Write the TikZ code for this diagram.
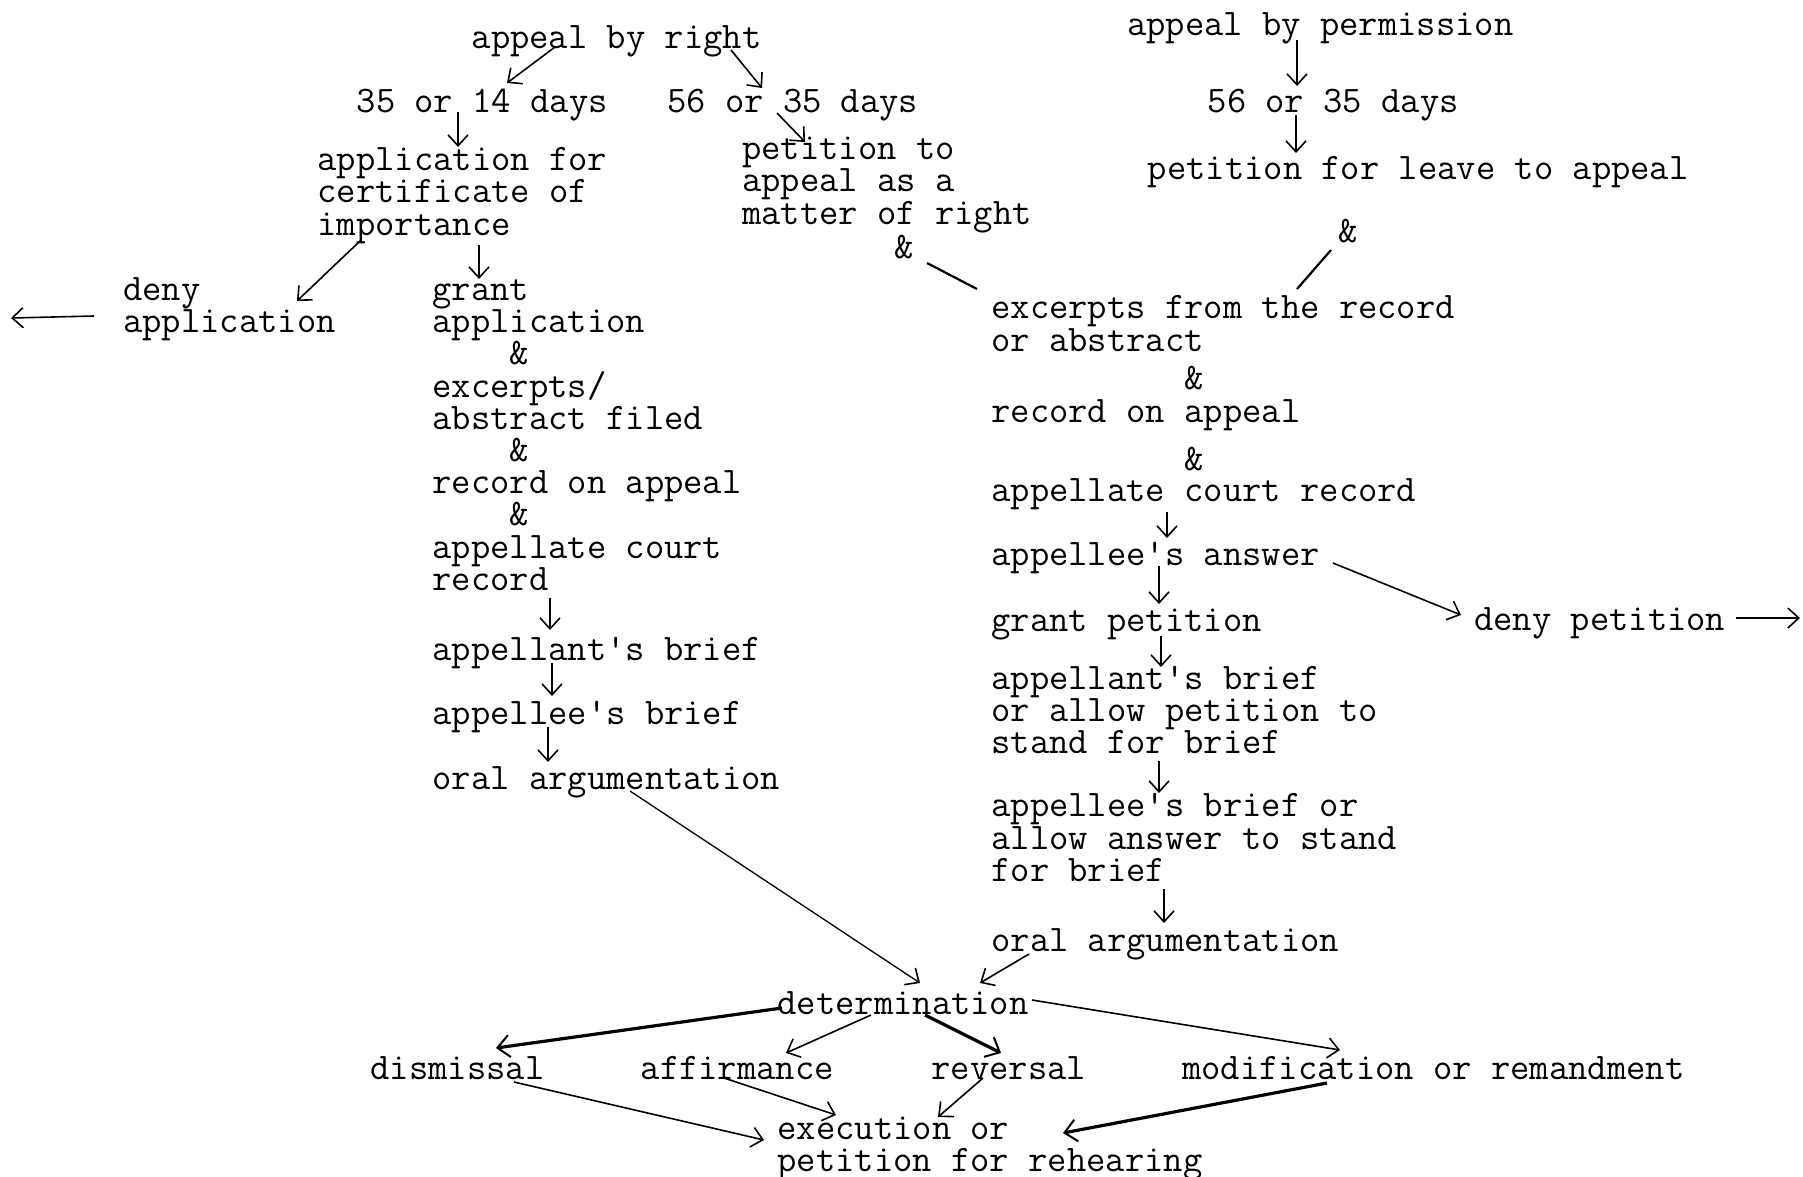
\documentclass[tikz,border=0pt]{standalone}
\usepackage{fontspec}
\usetikzlibrary{arrows.meta}
\lineskiplimit=-1000pt
\begin{document}
\begin{tikzpicture}[x=1pt,y=-1pt,
  tw/.style={anchor=north west,inner sep=0pt,align=left,
    font=\fontsize{37.5pt}{32.2pt}\selectfont\ttfamily,
    execute at begin node={\rule{0pt}{28.6pt}}},
  arr/.style={line width=1.6pt,-{Straight Barb[length=11pt,width=20pt,line width=1.6pt]}},
  heavyarr/.style={line width=3.2pt,-{Straight Barb[length=12pt,width=22pt,line width=2pt]}},
  link/.style={line width=2.2pt}]
\fill[white] (0,0) rectangle (1803,1176);
\useasboundingbox (0,0) rectangle (1803,1176);

% nodes
\node[tw] (ar) at (471.5,19.6) {appeal by right};
\node[tw] (d1) at (356.5,84) {35 or 14 days};
\node[tw] (d2) at (667,84) {56 or 35 days};
\node[tw] (app) at (317.4,147.3) {application for\\certificate of\\importance};
\node[tw] (pet) at (742,137) {petition to\\appeal as a\\matter of right};
\node[tw] (amp1) at (894.6,230) {\&};
\node[tw] (abp) at (1127,7) {appeal by permission};
\node[tw] (d3) at (1207.5,84) {56 or 35 days};
\node[tw] (pl) at (1147.6,150.7) {petition for leave to appeal};
\node[tw] (amp2) at (1338.5,214) {\&};
\node[tw] (deny) at (123,277.2) {deny\\application};
\node[tw] (grant) at (432.4,279.6) {grant\\application\\\phantom{xxxx}\&\\excerpts/\\abstract filed\\\phantom{xxxx}\&\\record on appeal\\\phantom{xxxx}\&\\appellate court\\record};
\node[tw] (ab1) at (432.4,631.4) {appellant\textquotesingle s brief};
\node[tw] (ae1) at (432.4,695.8) {appellee\textquotesingle s brief};
\node[tw] (oa1) at (432.4,760.2) {oral argumentation};
\node[tw] (ex) at (991.2,295.6) {excerpts from the record\\or abstract};
\node[tw] (amp3) at (1184.4,361) {\&};
\node[tw] (rec) at (991.2,393.4) {record on appeal};
\node[tw] (amp4) at (1184.4,441.7) {\&};
\node[tw] (acr) at (991.2,472.7) {appellate court record};
\node[tw] (ans) at (991.2,537) {appellee\textquotesingle s answer};
\node[tw] (gp) at (991.2,602.6) {grant petition};
\node[tw] (ab2) at (991.2,665.9) {appellant\textquotesingle s brief\\or allow petition to\\stand for brief};
\node[tw] (ae2) at (991.2,793.5) {appellee\textquotesingle s brief or\\allow answer to stand\\for brief};
\node[tw] (oa2) at (991.2,922.3) {oral argumentation};
\node[tw] (dp) at (1474,601.5) {deny petition};
\node[tw] (det) at (777.3,985.5) {determination};
\node[tw] (dis) at (370.3,1051) {dismissal};
\node[tw] (aff) at (640.5,1051) {affirmance};
\node[tw] (rev) at (931.4,1051) {reversal};
\node[tw] (mod) at (1182,1051) {modification or remandment};
\node[tw] (exe) at (777.3,1116.6) {execution or\\petition for rehearing};
\coordinate (denyout) at (11,318);
\coordinate (dpout) at (1800,618);

% connectors, top
\draw[arr] ([shift={(83.5,27.4)}]ar.north west) -- ([shift={(150.5,-1)}]d1.north west);
\draw[arr] ([shift={(259.5,30.4)}]ar.north west) -- ([shift={(95,4)}]d2.north west);
\draw[arr] ([shift={(101.5,28)}]d1.north west) -- ([shift={(140.6,-0.3)}]app.north west);
\draw[arr] ([shift={(110,29)}]d2.north west) -- ([shift={(63,5)}]pet.north west);
\draw[arr] ([shift={(42.6,93.7)}]app.north west) -- ([shift={(174,23.8)}]deny.north west);
\draw[arr] ([shift={(161.6,97.7)}]app.north west) -- ([shift={(46.6,-0.6)}]grant.north west);
\draw[arr] ([shift={(-29,38.8)}]deny.north west) -- (denyout);
\draw[link] ([shift={(32.4,33)}]amp1.north west) -- ([shift={(-14.2,-6.6)}]ex.north west);
\draw[link] ([shift={(-7.5,36)}]amp2.north west) -- ([shift={(305.8,-6.6)}]ex.north west);
\draw[arr] ([shift={(170,33)}]abp.north west) -- ([shift={(89.5,2)}]d3.north west);
\draw[arr] ([shift={(88.5,31)}]d3.north west) -- ([shift={(148.4,2.3)}]pl.north west);

% left column
\draw[arr] ([shift={(117.6,318.8)}]grant.north west) -- ([shift={(117.6,-1.4)}]ab1.north west);
\draw[arr] ([shift={(119.6,31.6)}]ab1.north west) -- ([shift={(119.6,0.2)}]ae1.north west);
\draw[arr] ([shift={(115.6,31.2)}]ae1.north west) -- ([shift={(115.6,1.8)}]oa1.north west);
\draw[arr,line width=1.3pt] ([shift={(197.6,30.8)}]oa1.north west) -- ([shift={(142.7,-2.5)}]det.north west);

% right column
\draw[arr] ([shift={(175.8,39.3)}]acr.north west) -- ([shift={(175.8,1)}]ans.north west);
\draw[arr] ([shift={(167.8,29)}]ans.north west) -- ([shift={(167.8,1.4)}]gp.north west);
\draw[arr] ([shift={(169.8,33.4)}]gp.north west) -- ([shift={(169.8,1.1)}]ab2.north west);
\draw[arr] ([shift={(167.8,95.1)}]ab2.north west) -- ([shift={(167.8,-0.5)}]ae2.north west);
\draw[arr] ([shift={(172.8,95.5)}]ae2.north west) -- ([shift={(172.8,0.7)}]oa2.north west);
\draw[arr] ([shift={(37.8,31.7)}]oa2.north west) -- ([shift={(202.7,-2.5)}]det.north west);
\draw[arr] ([shift={(341.8,26)}]ans.north west) -- ([shift={(-13,13.5)}]dp.north west);
\draw[arr] ([shift={(262,16.5)}]dp.north west) -- (dpout);

% bottom
\draw[heavyarr] ([shift={(4.7,22.5)}]det.north west) -- ([shift={(125.7,-3)}]dis.north west);
\draw[arr] ([shift={(93.7,29.5)}]det.north west) -- ([shift={(145.5,2)}]aff.north west);
\draw[heavyarr] ([shift={(147.7,29.5)}]det.north west) -- ([shift={(69.6,2)}]rev.north west);
\draw[arr] ([shift={(254.7,14.5)}]det.north west) -- ([shift={(158,-1)}]mod.north west);
\draw[arr] ([shift={(143.7,31)}]dis.north west) -- ([shift={(-13.3,23.4)}]exe.north west);
\draw[arr] ([shift={(83.5,27)}]aff.north west) -- ([shift={(58.7,-1.6)}]exe.north west);
\draw[arr] ([shift={(51.6,27)}]rev.north west) -- ([shift={(160.7,0.4)}]exe.north west);
\draw[heavyarr] ([shift={(145,32)}]mod.north west) -- ([shift={(285.7,16.4)}]exe.north west);
\end{tikzpicture}
\end{document}
